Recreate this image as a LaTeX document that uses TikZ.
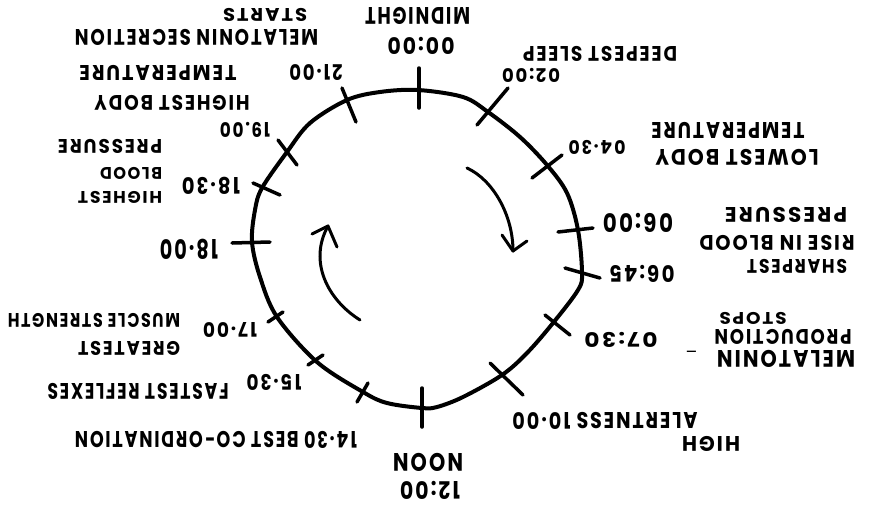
\documentclass[tikz,border=0pt]{standalone}
\usepackage{graphicx}
\usepackage{fontspec}
\setmainfont{Poppins}[LetterSpace=10]
\newcommand\hw[3]{\resizebox{#1pt}{#2pt}{#3}}
\tikzset{
  lbl/.style={rotate=180, inner sep=0pt, font=\bfseries},
  dial/.style={line width=4pt, line join=round},
  tick/.style={line width=3.5pt, line cap=round},
  turn/.style={line width=3pt, line cap=round, line join=round}
}
\begin{document}
\begin{tikzpicture}[x=1pt,y=-1pt]
\useasboundingbox (0,0) rectangle (877,509);
% dial outline
\draw[dial] plot[smooth cycle, tension=0.55] coordinates {
 (418,90) (463,97) (488,112) (520,137) (547,165) (567,193) (578,230)
 (582,273) (578,290) (553,323) (527,353) (502,375) (463,397) (437,407)
 (422,408) (387,403) (363,392) (317,362) (277,317) (260,277) (252,242)
 (255,210) (262,188) (287,152) (310,123) (347,100) (380,92)};
% ticks
\draw[tick] (419,68) -- (419,108);
\draw[tick] (342,88) -- (356,122);
\draw[tick] (278,140) -- (297,165);
\draw[tick] (253,183) -- (280,195);
\draw[tick] (232,243) -- (270,242);
\draw[tick] (268,322) -- (283,312);
\draw[tick] (308,365) -- (323,355);
\draw[tick] (357,402) -- (368,383);
\draw[tick] (422,388) -- (422,427);
\draw[tick] (490,363) -- (523,395);
\draw[tick] (545,315) -- (570,335);
\draw[tick] (565,268) -- (600,278);
\draw[tick] (558,232) -- (593,228);
\draw[tick] (532,178) -- (562,155);
\draw[tick] (477,125) -- (508,88);
% rotation arrows
\coordinate (ra0) at (467,168);
\coordinate (ra1) at (513,251);
\draw[turn] (ra0) .. controls (493,180) and (513,215) .. (ra1);
\draw[turn] (502,235) -- (ra1) -- (527,241);
\coordinate (la0) at (360,320);
\coordinate (la1) at (328,226);
\draw[turn] (la0) .. controls (328,300) and (308,262) .. (la1);
\draw[turn] (312,234) -- (la1) -- (337,247);
% labels
\node[lbl] (mid) at (417.5,16) {\hw{105}{17}{MIDNIGHT}};
\node[lbl] (t0000) at (421,46) {\hw{67}{17}{00:00}};
\node[lbl] (starts) at (265,15) {\hw{84}{13}{STARTS}};
\node[lbl] (melsec) at (196.5,37.5) {\hw{243}{16}{MELATONIN SECRETION}};
\node[lbl] (t2100) at (316,72) {\hw{53}{16}{21·00}};
\node[lbl] (tempa) at (158,73) {\hw{157}{15}{TEMPERATURE}};
\node[lbl] (hbody) at (172,103) {\hw{155}{15}{HIGHEST BODY}};
\node[lbl] (t1900) at (245,130) {\hw{50}{15}{19.00}};
\node[lbl] (pressa) at (110,146) {\hw{104}{14}{PRESSURE}};
\node[lbl] (blooda) at (131,173) {\hw{62}{12}{BLOOD}};
\node[lbl] (highesta) at (120,197) {\hw{84}{12}{HIGHEST}};
\node[lbl] (t1830) at (211,186) {\hw{58}{17}{18·30}};
\node[lbl] (t1800) at (189,249) {\hw{58}{20}{18·00}};
\node[lbl] (muscle) at (94,320) {\hw{172}{14}{MUSCLE STRENGTH}};
\node[lbl] (greatest) at (129,348) {\hw{102}{14}{GREATEST}};
\node[lbl] (t1700) at (230,330) {\hw{54}{15}{17·00}};
\node[lbl] (t1530) at (274,382) {\hw{55}{16}{15·30}};
\node[lbl] (fastest) at (138,391) {\hw{181}{16}{FASTEST REFLEXES}};
\node[lbl] (coord) at (216,440) {\hw{282}{17}{14·30 BEST CO-ORDINATION}};
\node[lbl] (noon) at (428,462) {\hw{70}{18}{NOON}};
\node[lbl] (t1200) at (430,490) {\hw{60}{18}{12:00}};
\node[lbl] (alert) at (605,421) {\hw{185}{17}{ALERTNESS 10·00}};
\node[lbl] (high) at (711,444) {\hw{58}{15}{HIGH}};
\node[lbl] (deepest) at (600,54) {\hw{154}{15}{DEEPEST SLEEP}};
\node[lbl] (t0200) at (531,75) {\hw{58}{14}{02:00}};
\node[lbl] (t0430) at (597,147) {\hw{57}{14}{04·30}};
\node[lbl] (tempb) at (728,130) {\hw{153}{16}{TEMPERATURE}};
\node[lbl] (lbody) at (737,157) {\hw{163}{16}{LOWEST BODY}};
\node[lbl] (t0600) at (638,223) {\hw{70}{19}{06:00}};
\node[lbl] (t0645) at (642,274) {\hw{65}{17}{06:45}};
\node[lbl] (pressb) at (786,215) {\hw{122}{15}{PRESSURE}};
\node[lbl] (rise) at (777,243) {\hw{155}{15}{RISE IN BLOOD}};
\node[lbl] (sharp) at (797,266) {\hw{100}{14}{SHARPEST}};
\node[lbl] (t0730) at (621,340) {\hw{73}{15}{07:30}};
\node[lbl] (dash) at (691,350) {\hw{12}{4}{-}};
\node[lbl] (stops) at (753,318.5) {\hw{67}{12}{STOPS}};
\node[lbl] (prod) at (783,337) {\hw{137}{15}{PRODUCTION}};
\node[lbl] (melat) at (786,358.5) {\hw{138}{17}{MELATONIN}};
\end{tikzpicture}
\end{document}
